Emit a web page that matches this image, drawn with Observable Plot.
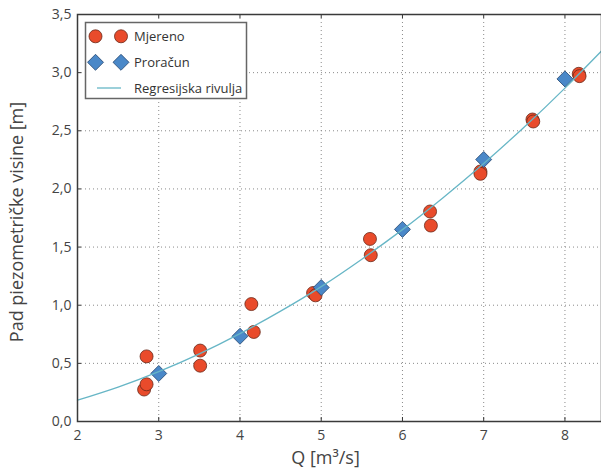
<!DOCTYPE html>
<html>
<head>
<meta charset="utf-8">
<script src="https://cdn.jsdelivr.net/npm/d3@7"></script>
<script src="https://cdn.jsdelivr.net/npm/@observablehq/plot@0.6"></script>
<style>
  html, body { margin: 0; padding: 0; background: #fff; }
  #chart { width: 601px; height: 469px; }
</style>
</head>
<body>
<div id="chart"></div>
<script>
// Measured points (Mjereno)
const measuredQ = [2.82, 2.85, 2.85, 3.51, 3.51, 4.14, 4.17, 4.90, 4.93, 5.60, 5.61, 6.34, 6.35, 6.96, 6.96, 7.60, 7.61, 8.17, 8.18];
const measuredH = [0.275, 0.32, 0.56, 0.61, 0.48, 1.01, 0.77, 1.105, 1.085, 1.57, 1.43, 1.806, 1.685, 2.15, 2.13, 2.597, 2.58, 2.99, 2.97];

// Calculated points (Proračun)
const calcQ = [3, 4, 5, 6, 7, 8];
const calcH = [0.413, 0.733, 1.152, 1.652, 2.253, 2.946];

// Regression curve (Regresijska rivulja)
const curveQ = [2, 2.5, 3, 3.5, 4, 4.5, 5, 5.5, 6, 6.5, 7, 7.5, 8, 8.5];
const curveH = [0.183, 0.296, 0.429, 0.582, 0.756, 0.949, 1.16, 1.396, 1.65, 1.925, 2.219, 2.533, 2.867, 3.222];

const xTicks = [2, 3, 4, 5, 6, 7, 8];
const yTicks = [0, 0.5, 1.0, 1.5, 2.0, 2.5, 3.0, 3.5];
const legendLabels = ["Mjereno", "Proračun", "Regresijska rivulja"];
const xLabel = "Q [m³/s]";
const yLabel = "Pad piezometričke visine [m]";

const measured = measuredQ.map((q, i) => ({q, h: measuredH[i]}));
const calc = calcQ.map((q, i) => ({q, h: calcH[i]}));
const curve = curveQ.map((q, i) => ({q, h: curveH[i]}));

const fmt = d => d.toFixed(1).replace(".", ",");

const W = 601, H = 469, mL = 77, mR = 0, mT = 14, mB = 48;
const plotW = W - mL - mR, plotH = H - mT - mB;
const tickLen = 4;

const colRed = "#e94b2b", colRedStroke = "#6a2a1a";
const colBlue = "#4a88c8", colBlueStroke = "#23456e";
const colCurve = "#67b6c6";
const font = "'Open Sans', sans-serif";

const svg = Plot.plot({
  width: W, height: H,
  marginLeft: mL, marginRight: mR, marginTop: mT, marginBottom: mB,
  style: {fontFamily: font, fontSize: "14px", color: "#444", background: "#fff", overflow: "visible"},
  x: {domain: [2, 8.45]},
  y: {domain: [0, 3.5]},
  marks: [
    Plot.gridX(xTicks, {stroke: "#8a8a8a", strokeOpacity: 1, strokeDasharray: "1,3"}),
    Plot.gridY(yTicks, {stroke: "#8a8a8a", strokeOpacity: 1, strokeDasharray: "1,3"}),
    Plot.axisX(xTicks, {tickSize: 0, tickPadding: 9, tickFormat: d => String(d), label: null, fill: "#444", fontSize: 14}),
    Plot.axisY(yTicks, {tickSize: 0, tickPadding: 6, tickFormat: fmt, label: null, fill: "#444", fontSize: 14}),
    Plot.dot(measured, {x: "q", y: "h", r: 6.5, fill: colRed, stroke: colRedStroke, strokeWidth: 0.8}),
    Plot.dot(calc, {x: "q", y: "h", symbol: "diamond2", r: 7.2, fill: colBlue, stroke: colBlueStroke, strokeWidth: 0.8}),
    Plot.line(curve, {x: "q", y: "h", stroke: colCurve, strokeWidth: 1.3, curve: "natural"}),
    // inward ticks
    Plot.tickX(xTicks, {x: d => d, insetBottom: plotH - tickLen, stroke: "#333", strokeWidth: 1}),
    Plot.tickX(xTicks, {x: d => d, insetTop: plotH - tickLen, stroke: "#333", strokeWidth: 1}),
    Plot.tickY(yTicks, {y: d => d, insetRight: plotW - tickLen, stroke: "#333", strokeWidth: 1}),
    Plot.frame({stroke: "#3a3a3a", strokeWidth: 1.5}),
    Plot.text([xLabel], {text: d => d, frameAnchor: "bottom", textAnchor: "middle", lineAnchor: "middle", dy: 37, dx: -14, fontSize: 18, fill: "#444"}),
    Plot.text([yLabel], {text: d => d, frameAnchor: "left", textAnchor: "middle", lineAnchor: "middle", rotate: -90, dx: -60, dy: 4, fontSize: 18, fill: "#444"})
  ]
});

// Legend inside the plot (upper left)
const g = d3.select(svg).append("g").attr("font-family", font).attr("text-anchor", "start");
g.append("rect")
  .attr("x", 85.5).attr("y", 22.5).attr("width", 161).attr("height", 76)
  .attr("fill", "#fff").attr("stroke", "#666").attr("stroke-width", 1.5);
const rowY = [36.3, 62.3, 88];
const symX = [95.5, 121];
[0, 1].forEach(k => {
  g.append("circle").attr("cx", symX[k]).attr("cy", rowY[0]).attr("r", 6.5)
    .attr("fill", colRed).attr("stroke", colRedStroke).attr("stroke-width", 0.8);
  g.append("path").attr("d", d3.symbol(d3.symbolDiamond2, Math.PI * 7.2 * 7.2)())
    .attr("transform", `translate(${symX[k]},${rowY[1]})`)
    .attr("fill", colBlue).attr("stroke", colBlueStroke).attr("stroke-width", 0.8);
});
g.append("line").attr("x1", 97).attr("x2", 121).attr("y1", rowY[2]).attr("y2", rowY[2])
  .attr("stroke", colCurve).attr("stroke-width", 1.3);
legendLabels.forEach((t, i) => {
  g.append("text").attr("x", 134).attr("y", rowY[i]).attr("dy", "0.35em")
    .attr("text-anchor", "start")
    .attr("font-size", 13).attr("fill", "#333").text(t);
});

document.getElementById("chart").appendChild(svg);
</script>
</body>
</html>
